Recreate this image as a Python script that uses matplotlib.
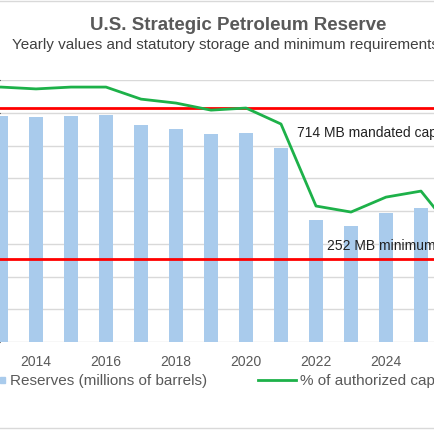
import matplotlib
matplotlib.use("Agg")
import matplotlib.pyplot as plt
from matplotlib.lines import Line2D

plt.rcParams['font.family'] = ['Liberation Sans', 'DejaVu Sans']

years = [2012, 2013, 2014, 2015, 2016, 2017, 2018, 2019, 2020, 2021, 2022, 2023, 2024, 2025]
reserves = [695, 690, 688, 690, 693, 663, 649, 635, 638, 593, 372, 354, 393, 410]
line_years = [2012, 2013, 2014, 2015, 2016, 2017, 2018, 2019, 2020, 2021, 2022, 2023, 2024, 2025, 2026]
pct_capacity = [97.3, 97.3, 96.6, 97.3, 97.3, 92.7, 91.2, 88.5, 89.3, 83.2, 51.9, 49.6, 55.3, 57.6, 41]
mandated = 714
minimum = 252
tick_years = [2014, 2016, 2018, 2020, 2022, 2024]

W = 435
fig = plt.figure(figsize=(4.35, 4.35), dpi=100)
ax = fig.add_axes([0, 1 - 343/W, 1, (343 - 81)/W])
x0 = 2014 - 36/35
ax.set_xlim(x0, x0 + W/35)
ax.set_ylim(0, 800)
ax.bar(years, reserves, width=0.4, color="#a9cbec", zorder=2)
ax.set_yticks(range(0, 801, 100))
ax.yaxis.grid(True, color="#d9d9d9", lw=1, zorder=0)
ax.set_axisbelow(True)
ax.tick_params(axis="y", left=False, labelleft=False)
ax.set_xticks(tick_years)
ax.set_xticklabels([str(y) for y in tick_years], color="#595959", fontsize=10)
ax.tick_params(axis="x", length=0, pad=9)
for s in ax.spines.values():
    s.set_visible(False)
ax.axhline(mandated, color="#ff0000", lw=2, zorder=3)
ax.axhline(minimum, color="#ff0000", lw=2, zorder=3)
ax.text(x0 + 297/35, 640, f"{mandated} MB mandated capacity", fontsize=10, color="#222222", va="center")
ax.text(x0 + 327/35, 296, f"{minimum} MB minimum requirement", fontsize=10, color="#222222", va="center")

ax2 = ax.twinx()
ax2.set_ylim(0, 100)
ax2.plot(line_years, pct_capacity, color="#1db149", lw=2, zorder=4)
ax2.axis("off")

fig.text(238/W, 1 - 25/W, "U.S. Strategic Petroleum Reserve", ha="center", va="center",
         fontsize=13.5, fontweight="bold", color="#595959")
fig.text(12/W, 1 - 45/W, "Yearly values and statutory storage and minimum requirements",
         ha="left", va="center", fontsize=11, color="#404040")

fig.patches.append(plt.Rectangle((0, 1 - 384/W), 5/W, 6/W, transform=fig.transFigure, color="#a9cbec"))
fig.text(10/W, 1 - 381/W, "Reserves (millions of barrels)", ha="left", va="center", fontsize=11, color="#595959")
fig.lines.append(Line2D([258/W, 296/W], [1 - 381/W, 1 - 381/W], transform=fig.transFigure, color="#1db149", lw=2))
fig.text(300/W, 1 - 381/W, "% of authorized capacity", ha="left", va="center", fontsize=11, color="#595959")

fig.lines.append(Line2D([0, 1], [1 - 1.5/W, 1 - 1.5/W], transform=fig.transFigure, color="#d9d9d9", lw=1))
fig.lines.append(Line2D([0, 1], [1 - 429/W, 1 - 429/W], transform=fig.transFigure, color="#d9d9d9", lw=1))

fig.savefig("out.png", dpi=100)
